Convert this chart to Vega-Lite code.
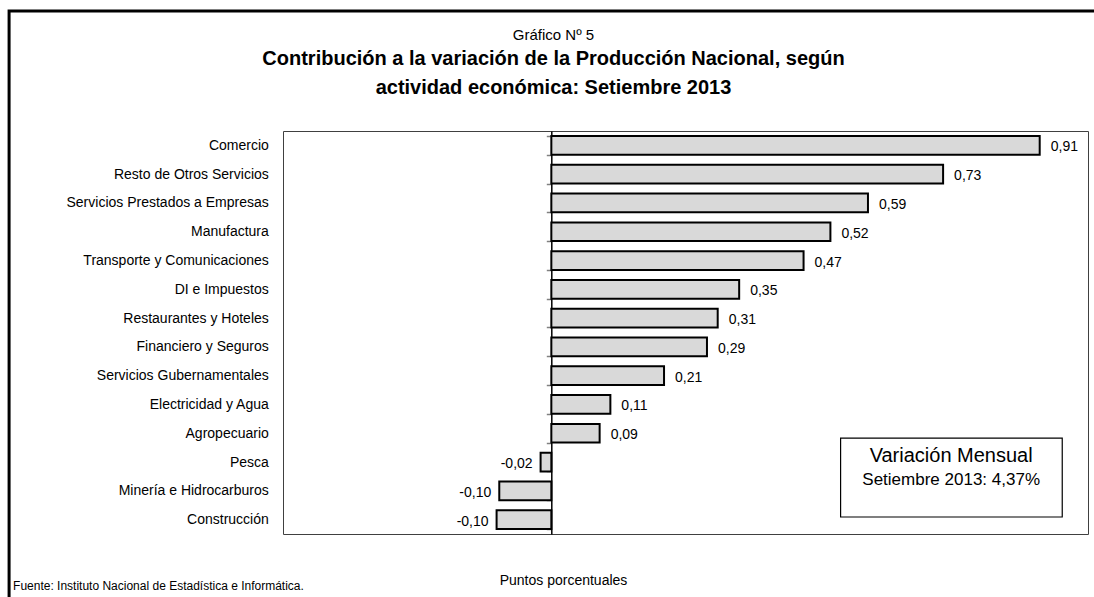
{
  "$schema": "https://vega.github.io/schema/vega-lite/v6.json",
  "autosize": {"type": "none"},
  "width": 805,
  "height": 403,
  "padding": {"left": 283, "top": 131, "right": 6, "bottom": 63},
  "background": "white",
  "config": {
    "font": "Liberation Sans, Arial, sans-serif",
    "view": {"stroke": "#404040", "strokeWidth": 1}
  },
  "title": {
    "text": "Gráfico Nº 5",
    "subtitle": ["Contribución a la variación de la Producción Nacional, según", "actividad económica: Setiembre 2013"],
    "anchor": "middle",
    "frame": "group",
    "dx": -132,
    "offset": -89,
    "font": "Liberation Sans, Arial, sans-serif",
    "fontSize": 15,
    "fontWeight": "normal",
    "color": "#000",
    "subtitleFont": "Liberation Sans, Arial, sans-serif",
    "subtitleFontSize": 20,
    "subtitleFontWeight": "bold",
    "subtitleColor": "#000",
    "subtitleLineHeight": 29,
    "subtitlePadding": 6
  },
  "layer": [
    {
      "data": {
        "values": [
          {"actividad": "Comercio", "valor": 0.91, "etiqueta": "0,91"},
          {"actividad": "Resto de Otros Servicios ", "valor": 0.73, "etiqueta": "0,73"},
          {"actividad": "Servicios Prestados a Empresas", "valor": 0.59, "etiqueta": "0,59"},
          {"actividad": "Manufactura", "valor": 0.52, "etiqueta": "0,52"},
          {"actividad": "Transporte y Comunicaciones", "valor": 0.47, "etiqueta": "0,47"},
          {"actividad": "DI e Impuestos", "valor": 0.35, "etiqueta": "0,35"},
          {"actividad": "Restaurantes y Hoteles", "valor": 0.31, "etiqueta": "0,31"},
          {"actividad": "Financiero y Seguros", "valor": 0.29, "etiqueta": "0,29"},
          {"actividad": "Servicios Gubernamentales", "valor": 0.21, "etiqueta": "0,21"},
          {"actividad": "Electricidad y Agua", "valor": 0.11, "etiqueta": "0,11"},
          {"actividad": "Agropecuario", "valor": 0.09, "etiqueta": "0,09"},
          {"actividad": "Pesca", "valor": -0.02, "etiqueta": "-0,02"},
          {"actividad": "Minería e Hidrocarburos", "valor": -0.097, "etiqueta": "-0,10"},
          {"actividad": "Construcción", "valor": -0.102, "etiqueta": "-0,10"}
        ]
      },
      "encoding": {
        "y": {
          "field": "actividad",
          "type": "nominal",
          "sort": null,
          "scale": {"paddingInner": 0.35, "paddingOuter": 0.175},
          "axis": {
            "title": null,
            "orient": "left",
            "offset": -268.3,
            "domainColor": "#000",
            "domainWidth": 1.5,
            "tickBand": "extent",
            "tickSize": 5,
            "tickColor": "#808080",
            "tickWidth": 1.5,
            "labelPadding": 278,
            "labelFontSize": 14,
            "labelLimit": 0,
            "labelColor": "#000",
            "labelFont": "Liberation Sans, Arial, sans-serif",
            "grid": false
          }
        },
        "x": {
          "field": "valor",
          "type": "quantitative",
          "scale": {"domain": [-0.5, 1.0], "nice": false, "zero": false},
          "axis": {
            "title": "Puntos porcentuales",
            "labels": false,
            "ticks": false,
            "domain": false,
            "grid": false,
            "titleX": 280,
            "titleY": 46,
            "titleBaseline": "middle",
            "titleAnchor": "middle",
            "titleAlign": "center",
            "titleFontSize": 14,
            "titleFontWeight": "normal",
            "titleColor": "#000",
            "titleFont": "Liberation Sans, Arial, sans-serif"
          }
        }
      },
      "layer": [
        {
          "mark": {"type": "bar", "fill": "#d9d9d9", "stroke": "#000", "strokeWidth": 2},
          "encoding": {"x2": {"datum": 0}}
        },
        {
          "transform": [{"filter": "datum.valor >= 0"}],
          "mark": {"type": "text", "align": "left", "baseline": "middle", "dx": 11, "dy": 2, "fontSize": 14, "color": "#000"},
          "encoding": {"text": {"field": "etiqueta"}}
        },
        {
          "transform": [{"filter": "datum.valor < 0"}],
          "mark": {"type": "text", "align": "right", "baseline": "middle", "dx": -8, "dy": 2, "fontSize": 14, "color": "#000"},
          "encoding": {"text": {"field": "etiqueta"}}
        }
      ]
    },
    {
      "encoding": {
        "x": {"field": "x", "type": "quantitative"},
        "y": {"field": "y", "type": "quantitative", "scale": {"domain": [0, 14], "reverse": true, "nice": false, "zero": false}, "axis": null}
      },
      "layer": [
        {
          "data": {"values": [{"x": 0.539, "x2": 0.952, "y": 10.67, "y2": 13.41}]},
          "mark": {"type": "rect", "fill": "white", "stroke": "#000", "strokeWidth": 1.2},
          "encoding": {"x2": {"field": "x2"}, "y2": {"field": "y2"}}
        },
        {
          "data": {"values": [{"x": -1.0104, "x2": 1.3, "y": -4.17, "y2": 20}]},
          "mark": {"type": "rect", "fill": null, "fillOpacity": 0, "stroke": "#000", "strokeWidth": 3, "clip": false},
          "encoding": {"x2": {"field": "x2"}, "y2": {"field": "y2"}}
        },
        {
          "data": {"values": [{"x": 0.745, "y": 11.3, "texto": "Variación Mensual"}]},
          "mark": {"type": "text", "align": "center", "baseline": "middle", "fontSize": 20, "color": "#000"},
          "encoding": {"text": {"field": "texto"}}
        },
        {
          "data": {"values": [{"x": 0.745, "y": 12.13, "texto": "Setiembre 2013: 4,37%"}]},
          "mark": {"type": "text", "align": "center", "baseline": "middle", "fontSize": 17, "color": "#000"},
          "encoding": {"text": {"field": "texto"}}
        },
        {
          "data": {"values": [{"x": -1.003, "y": 15.8, "texto": "Fuente: Instituto Nacional de Estadística e Informática."}]},
          "mark": {"type": "text", "align": "left", "baseline": "middle", "fontSize": 12, "color": "#000", "clip": false},
          "encoding": {"text": {"field": "texto"}}
        }
      ]
    }
  ],
  "resolve": {"scale": {"y": "independent"}}
}
